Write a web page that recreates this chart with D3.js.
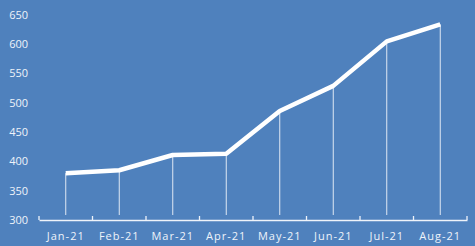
<!DOCTYPE html>
<html>
<head>
<meta charset="utf-8">
<script src="https://cdn.jsdelivr.net/npm/d3@7"></script>
<style>
  body { margin: 0; background: #4f81bd; }
  text { font-family: "Open Sans", "Liberation Sans", sans-serif; fill: #eef3fa; }
</style>
</head>
<body>
<script>
// chart size
var w = 475, h = 246;

// data
var months = ["Jan-21", "Feb-21", "Mar-21", "Apr-21", "May-21", "Jun-21", "Jul-21", "Aug-21"];
var values = [380, 385, 411, 413, 486, 529, 605, 634];
var yTicks = [300, 350, 400, 450, 500, 550, 600, 650];

var svg = d3.select("body").append("svg")
  .attr("width", w)
  .attr("height", h)
  .style("background-color", "#4f81bd");

// scales
var x = d3.scaleBand()
  .domain(months)
  .range([39, 467]);

var y = d3.scaleLinear()
  .domain([300, 650])
  .range([220, 15]);

// drop lines from each point to the axis
svg.selectAll(".drop")
  .data(values)
  .enter()
  .append("line")
  .attr("class", "drop")
  .attr("x1", function(d, i){ return x(months[i]) + x.bandwidth() / 2; })
  .attr("x2", function(d, i){ return x(months[i]) + x.bandwidth() / 2; })
  .attr("y1", function(d){ return y(d); })
  .attr("y2", y(300) - 5)
  .style("stroke", "#dfe8f4")
  .style("stroke-width", 1);

// x axis
var xAxis = svg.append("g")
  .attr("transform", "translate(0," + y(300) + ")")
  .call(d3.axisBottom(x).tickSize(0).tickPadding(12));
xAxis.select(".domain").style("stroke", "#eef3fa").style("stroke-width", 1.3);
xAxis.selectAll("text")
  .style("font-size", "11px")
  .style("letter-spacing", "1px")
  .style("fill", "#eef3fa");

// category boundary ticks
var bounds = months.map(function(m){ return x(m); }).concat([x.range()[1]]);
svg.selectAll(".bt")
  .data(bounds)
  .enter()
  .append("line")
  .attr("x1", function(d){ return d; })
  .attr("x2", function(d){ return d; })
  .attr("y1", y(300) - 4)
  .attr("y2", y(300))
  .style("stroke", "#eef3fa")
  .style("stroke-width", 1.3);

// y labels (no axis line)
svg.selectAll(".ylab")
  .data(yTicks)
  .enter()
  .append("text")
  .attr("class", "ylab")
  .attr("x", 28)
  .attr("y", function(d){ return y(d); })
  .attr("dy", "0.35em")
  .attr("text-anchor", "end")
  .style("font-size", "11px")
  .text(function(d){ return d; });

// the line
var line = d3.line()
  .x(function(d, i){ return x(months[i]) + x.bandwidth() / 2; })
  .y(function(d){ return y(d); });

svg.append("path")
  .datum(values)
  .attr("d", line)
  .style("fill", "none")
  .style("stroke", "#ffffff")
  .style("stroke-width", 4.5)
  .style("stroke-linejoin", "round");
</script>
</body>
</html>
